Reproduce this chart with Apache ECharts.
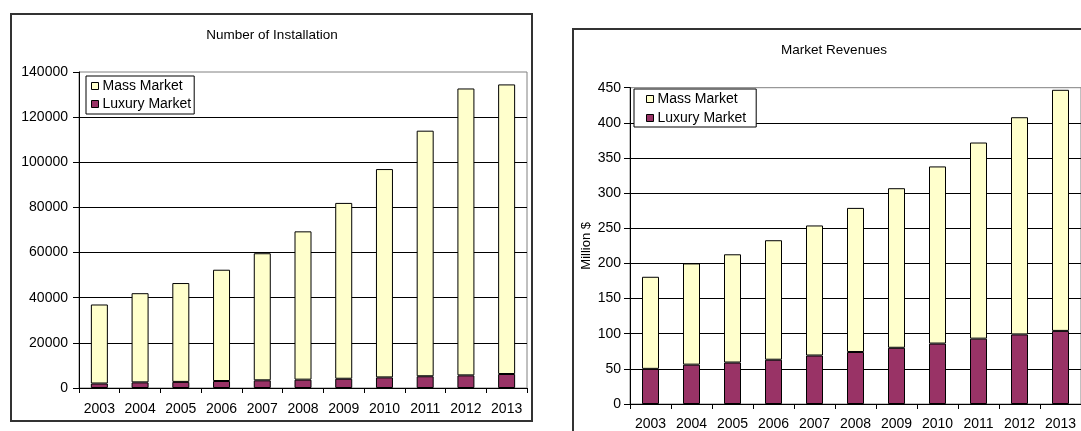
<!DOCTYPE html>
<html>
<head>
<meta charset="utf-8">
<script src="https://cdn.jsdelivr.net/npm/echarts@6/dist/echarts.min.js"></script>
<style>
  html, body { margin: 0; padding: 0; background: #fff; overflow: hidden; }
  #chart { width: 1081px; height: 431px; }
</style>
</head>
<body>
<div id="chart"></div>
<script>
// Market data, 2003-2013
const years = ['2003', '2004', '2005', '2006', '2007', '2008', '2009', '2010', '2011', '2012', '2013'];

// Number of installations
const installLuxury = [2000, 2500, 2700, 3100, 3400, 3700, 4100, 4700, 5200, 5600, 6200];
const installMass = [35000, 39500, 43800, 49300, 56300, 65700, 77900, 92300, 108800, 127100, 128300];

// Market revenues, million $
const revenueLuxury = [50, 56, 59, 63, 69, 74, 80, 86, 93, 99, 104];
const revenueMass = [131, 144, 154, 170, 185, 205, 227, 252, 279, 309, 343];

const FONT = '"Liberation Sans", Arial, sans-serif';
const MASS_COLOR = '#FFFFCC';
const LUX_COLOR = '#993366';

const chart = echarts.init(document.getElementById('chart'), null, { renderer: 'canvas' });

function catAxis(gridIndex, margin) {
  return {
    type: 'category', gridIndex, data: years,
    axisLine: { lineStyle: { color: '#000', width: 1 } },
    axisTick: { show: true, length: 5, lineStyle: { color: '#000' } },
    axisLabel: { color: '#000', fontSize: 14, fontFamily: FONT, margin },
    splitLine: { show: false }
  };
}

function valAxis(gridIndex, max, interval, margin, extra) {
  return Object.assign({
    type: 'value', gridIndex, min: 0, max, interval,
    axisLine: { show: true, lineStyle: { color: '#000', width: 1 } },
    axisTick: { show: true, length: 6, lineStyle: { color: '#000' } },
    axisLabel: { color: '#000', fontSize: 14, fontFamily: FONT, margin,
                 formatter: v => String(v) },
    splitLine: { show: true, showMaxLine: false, lineStyle: { color: '#000', width: 1 } }
  }, extra || {});
}

function barSeries(name, data, color, axisIdx) {
  return {
    name, type: 'bar', stack: 'total' + axisIdx, data,
    xAxisIndex: axisIdx, yAxisIndex: axisIdx,
    barWidth: 17,
    itemStyle: { color, borderColor: '#000', borderWidth: 1 },
    emphasis: { disabled: true },
    animation: false
  };
}

const legendBase = {
  orient: 'vertical', icon: 'rect', itemWidth: 7, itemHeight: 7,
  backgroundColor: '#fff', borderColor: '#000', borderWidth: 1, borderRadius: 0,
  selectedMode: false,
  textStyle: { color: '#000', fontSize: 14, fontFamily: FONT, lineHeight: 16, padding: [0, 0, 0, -1] },
  itemStyle: { borderColor: '#000', borderWidth: 1 },
  data: ['Mass Market', 'Luxury Market']
};

chart.setOption({
  animation: false,
  backgroundColor: '#fff',
  graphic: [
    // outer chart frames
    { type: 'rect', z: -10, shape: { x: 11, y: 14, width: 521, height: 407 },
      style: { fill: '#fff', stroke: '#333', lineWidth: 2 } },
    { type: 'rect', z: -10, shape: { x: 573, y: 29, width: 600, height: 430 },
      style: { fill: '#fff', stroke: '#333', lineWidth: 2 } },
    // chart titles
    { type: 'text', x: 272, y: 35, z: 10,
      style: { text: 'Number of Installation', fill: '#000', font: '13.5px ' + FONT,
               textAlign: 'center', textVerticalAlign: 'middle' } },
    { type: 'text', x: 834, y: 50, z: 10,
      style: { text: 'Market Revenues', fill: '#000', font: '13.5px ' + FONT,
               textAlign: 'center', textVerticalAlign: 'middle' } }
  ],
  legend: [
    Object.assign({}, legendBase, { left: 86, top: 76, itemGap: 2, padding: [2, 3, 2, 5] }),
    Object.assign({}, legendBase, { left: 634, top: 89, itemGap: 3, padding: [2, 10, 1, 12] })
  ],
  grid: [
    { left: 79, top: 72, width: 448, height: 316, show: true,
      borderColor: '#808080', borderWidth: 1, backgroundColor: 'transparent' },
    { left: 630, top: 87.7, width: 459.6, height: 316.6, show: true,
      borderColor: '#808080', borderWidth: 1, backgroundColor: 'transparent' }
  ],
  xAxis: [catAxis(0, 14), catAxis(1, 13)],
  yAxis: [
    valAxis(0, 140000, 20000, 11),
    valAxis(1, 450, 50, 9, {
      name: 'Million $', nameLocation: 'middle', nameRotate: 90, nameGap: 37,
      nameTextStyle: { color: '#000', fontSize: 13, fontFamily: FONT }
    })
  ],
  series: [
    barSeries('Luxury Market', installLuxury, LUX_COLOR, 0),
    barSeries('Mass Market', installMass, MASS_COLOR, 0),
    barSeries('Luxury Market', revenueLuxury, LUX_COLOR, 1),
    barSeries('Mass Market', revenueMass, MASS_COLOR, 1)
  ]
});
</script>
</body>
</html>
